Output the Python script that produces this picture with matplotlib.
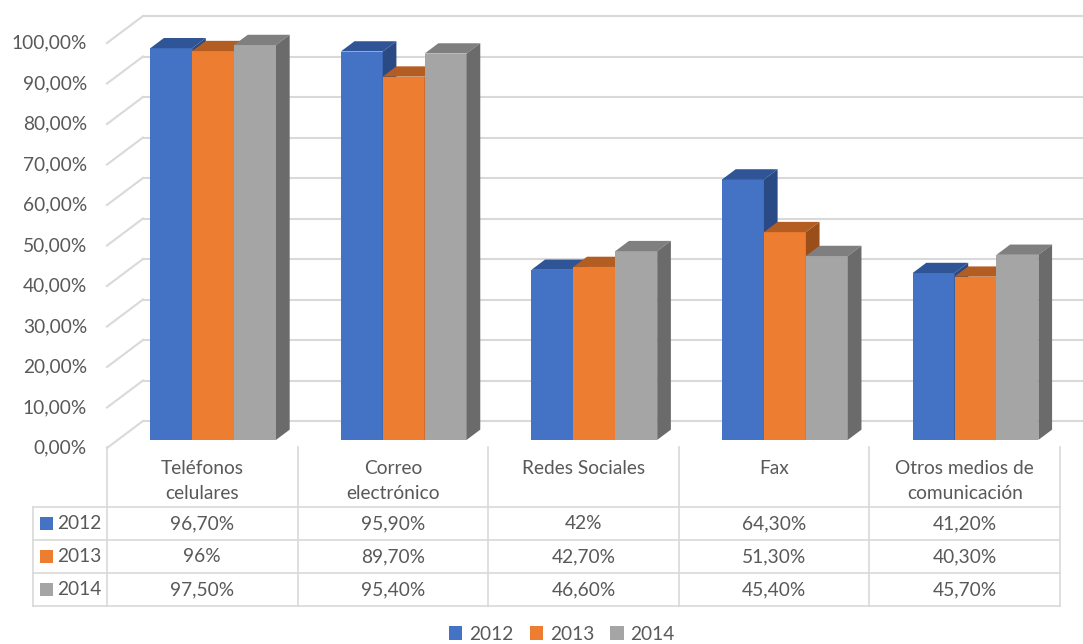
import matplotlib
matplotlib.use("Agg")
import matplotlib.pyplot as plt
from matplotlib.patches import Polygon, Patch

# ---- data -------------------------------------------------------------
categories = ["Teléfonos\ncelulares", "Correo\nelectrónico", "Redes Sociales",
              "Fax", "Otros medios de\ncomunicación"]
years = ["2012", "2013", "2014"]
v2012 = [96.7, 95.9, 42.0, 64.3, 41.2]
v2013 = [96.0, 89.7, 42.7, 51.3, 40.3]
v2014 = [97.5, 95.4, 46.6, 45.4, 45.7]
y_ticks = [0, 10, 20, 30, 40, 50, 60, 70, 80, 90, 100]

series = [v2012, v2013, v2014]

# ---- style ------------------------------------------------------------
FONT = "Lato"
FS = 13.8
TXT = "#595959"
GRID = "#d9d9d9"
front_col = ["#4472C4", "#ED7D31", "#A5A5A5"]
top_col = ["#2F5597", "#B35D22", "#7F7F7F"]
side_col = ["#2A4A85", "#9A4F1B", "#6B6B6B"]

W, H, DPI = 1083, 644, 100
x0_px, cw_px = 107, 190.6      # left of category area, category width
y0_px, ppu = 448, 4.05         # front zero line, pixels per percent

fig = plt.figure(figsize=(W / DPI, H / DPI), dpi=DPI)
ax = fig.add_axes([x0_px / W, (H - y0_px) / H, 5 * cw_px / W, 100 * ppu / H])
ax.set_xlim(0, 5)
ax.set_ylim(0, 100)
ax.axis("off")

# depth of the box and of the columns (data units)
DX, DY = 36 / cw_px, 27 / ppu
front_f, depth_f = 0.30, 0.38
fdx, fdy = front_f * DX, front_f * DY
bdx, bdy = depth_f * DX, depth_f * DY

# back wall and left wall gridlines
for g in y_ticks:
    ax.plot([DX, 6], [g + DY, g + DY], color=GRID, lw=1.5, clip_on=False, zorder=1)
    ax.plot([0, DX], [g, g + DY], color=GRID, lw=1.5, clip_on=False, zorder=1)
    ax.text(-20 / cw_px, g, f"{g},00%", ha="right", va="center", fontsize=FS,
            color=TXT, family=FONT)

# columns
bw, gap = 0.22, 0.17
for i in range(len(categories)):
    for j, vals in enumerate(series):
        v = vals[i]
        xl = i + gap + j * bw + fdx
        xr = xl + bw
        b = fdy
        t = v + fdy
        z = 2 + i * 3 + j
        ax.add_patch(Polygon([(xl, b), (xr, b), (xr, t), (xl, t)], closed=True,
                             fc=front_col[j], ec="none", clip_on=False, zorder=z))
        ax.add_patch(Polygon([(xl, t), (xr, t), (xr + bdx, t + bdy), (xl + bdx, t + bdy)],
                             closed=True, fc=top_col[j], ec="none", clip_on=False, zorder=z))
        ax.add_patch(Polygon([(xr, b), (xr, t), (xr + bdx, t + bdy), (xr + bdx, b + bdy)],
                             closed=True, fc=side_col[j], ec="none", clip_on=False, zorder=z))

# ---- data table (pixel layout overlay) --------------------------------
tab = fig.add_axes([0, 0, 1, 1])
tab.set_xlim(0, W)
tab.set_ylim(H, 0)
tab.axis("off")
tab.patch.set_alpha(0)

TL = "#d9d9d9"
row_y = [507, 540, 573, 606]
tab_left = 33
x_right = x0_px + 5 * cw_px
for yy in row_y:
    tab.plot([tab_left, x_right], [yy, yy], color=TL, lw=1.2)
tab.plot([tab_left, tab_left], [row_y[0], row_y[-1]], color=TL, lw=1.2)
for i in range(6):
    xx = x0_px + i * cw_px
    tab.plot([xx, xx], [447, row_y[-1]], color=TL, lw=1.2)


def fmt(v):
    if float(v).is_integer():
        return f"{int(v)}%"
    return f"{v:.2f}".replace(".", ",") + "%"


for i, cat in enumerate(categories):
    cx = x0_px + (i + 0.5) * cw_px
    for k, line in enumerate(cat.split("\n")):
        tab.text(cx, 468 + k * 25, line, ha="center", va="center", fontsize=FS,
                 color=TXT, family=FONT)
    for j, vals in enumerate(series):
        cy = (row_y[j] + row_y[j + 1]) / 2
        tab.text(cx, cy, fmt(vals[i]), ha="center", va="center", fontsize=FS,
                 color=TXT, family=FONT)

for j, yr in enumerate(years):
    cy = (row_y[j] + row_y[j + 1]) / 2
    tab.add_patch(plt.Rectangle((40, cy - 6.5), 13, 13, fc=front_col[j], ec="none"))
    tab.text(57, cy, yr, ha="left", va="center", fontsize=FS, color=TXT, family=FONT)

# ---- legend -----------------------------------------------------------
handles = [Patch(fc=c, ec="none") for c in front_col]
fig.legend(handles, years, loc="center", bbox_to_anchor=(562 / W, 1 - 634 / H),
           ncol=3, frameon=False, prop={"family": FONT, "size": FS},
           labelcolor=TXT, handlelength=0.7, handleheight=0.7,
           handletextpad=0.35, columnspacing=0.85, borderpad=0)

fig.savefig("out.png", dpi=DPI)
